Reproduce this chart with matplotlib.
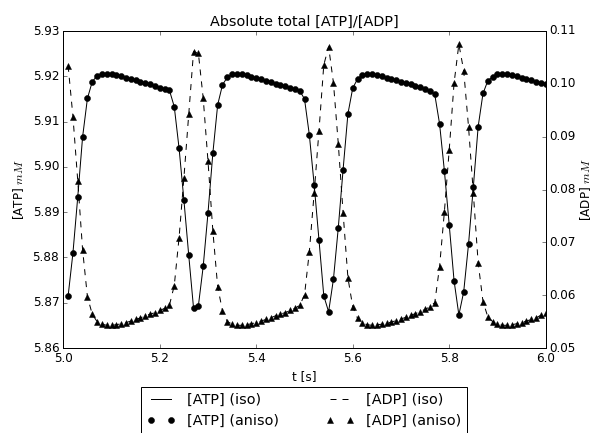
import matplotlib
matplotlib.use("Agg")
import matplotlib.pyplot as plt
from matplotlib.ticker import FormatStrFormatter

t = [5.01, 5.02, 5.03, 5.04, 5.05, 5.06, 5.07, 5.08, 5.09, 5.10,
     5.11, 5.12, 5.13, 5.14, 5.15, 5.16, 5.17, 5.18, 5.19, 5.20,
     5.21, 5.22, 5.23, 5.24, 5.25, 5.26, 5.27, 5.28, 5.29, 5.30,
     5.31, 5.32, 5.33, 5.34, 5.35, 5.36, 5.37, 5.38, 5.39, 5.40,
     5.41, 5.42, 5.43, 5.44, 5.45, 5.46, 5.47, 5.48, 5.49, 5.50,
     5.51, 5.52, 5.53, 5.54, 5.55, 5.56, 5.57, 5.58, 5.59, 5.60,
     5.61, 5.62, 5.63, 5.64, 5.65, 5.66, 5.67, 5.68, 5.69, 5.70,
     5.71, 5.72, 5.73, 5.74, 5.75, 5.76, 5.77, 5.78, 5.79, 5.80,
     5.81, 5.82, 5.83, 5.84, 5.85, 5.86, 5.87, 5.88, 5.89, 5.90,
     5.91, 5.92, 5.93, 5.94, 5.95, 5.96, 5.97, 5.98, 5.99, 6.00]

atp = [5.8715, 5.8810, 5.8934, 5.9066, 5.9151, 5.9188, 5.9201, 5.9205, 5.9206, 5.9205,
       5.9203, 5.9200, 5.9197, 5.9194, 5.9191, 5.9188, 5.9185, 5.9182, 5.9179, 5.9175,
       5.9172, 5.9169, 5.9133, 5.9041, 5.8927, 5.8805, 5.8688, 5.8693, 5.8780, 5.8899,
       5.9030, 5.9137, 5.9181, 5.9198, 5.9204, 5.9206, 5.9205, 5.9202, 5.9199, 5.9196,
       5.9193, 5.9190, 5.9187, 5.9184, 5.9181, 5.9178, 5.9175, 5.9172, 5.9168, 5.9150,
       5.9071, 5.8961, 5.8839, 5.8715, 5.8680, 5.8752, 5.8865, 5.8994, 5.9117, 5.9174,
       5.9194, 5.9203, 5.9206, 5.9205, 5.9203, 5.9200, 5.9197, 5.9194, 5.9191, 5.9188,
       5.9185, 5.9182, 5.9179, 5.9176, 5.9172, 5.9167, 5.9160, 5.9095, 5.8991, 5.8872,
       5.8749, 5.8673, 5.8724, 5.8829, 5.8956, 5.9089, 5.9162, 5.9190, 5.9199, 5.9204,
       5.9206, 5.9205, 5.9203, 5.9200, 5.9197, 5.9194, 5.9191, 5.9188, 5.9185, 5.9182]

adp = [0.1034, 0.0938, 0.0816, 0.0686, 0.0597, 0.0564, 0.0550, 0.0545, 0.0543, 0.0543,
       0.0544, 0.0546, 0.0548, 0.0551, 0.0554, 0.0557, 0.0561, 0.0564, 0.0567, 0.0571,
       0.0575, 0.0581, 0.0618, 0.0709, 0.0822, 0.0942, 0.1061, 0.1058, 0.0973, 0.0853,
       0.0722, 0.0616, 0.0570, 0.0550, 0.0545, 0.0543, 0.0543, 0.0544, 0.0546, 0.0548,
       0.0551, 0.0554, 0.0557, 0.0561, 0.0564, 0.0567, 0.0571, 0.0575, 0.0581, 0.0600,
       0.0682, 0.0793, 0.0911, 0.1036, 0.1070, 0.1002, 0.0887, 0.0756, 0.0633, 0.0578,
       0.0556, 0.0547, 0.0544, 0.0543, 0.0544, 0.0545, 0.0547, 0.0549, 0.0552, 0.0555,
       0.0558, 0.0562, 0.0565, 0.0569, 0.0573, 0.0578, 0.0586, 0.0654, 0.0758, 0.0875,
       0.1001, 0.1075, 0.1025, 0.0919, 0.0793, 0.0661, 0.0588, 0.0559, 0.0550, 0.0545,
       0.0543, 0.0543, 0.0544, 0.0546, 0.0548, 0.0551, 0.0554, 0.0557, 0.0562, 0.0567]

x_ticks = [5.0, 5.2, 5.4, 5.6, 5.8, 6.0]
atp_ticks = [5.86, 5.87, 5.88, 5.89, 5.90, 5.91, 5.92, 5.93]
adp_ticks = [0.05, 0.06, 0.07, 0.08, 0.09, 0.10, 0.11]

# ── figure ────────────────────────────────────────────────────────────────
plt.style.use("classic")
W, H, DPI = 594, 433, 72
fig = plt.figure(figsize=(W / DPI, H / DPI), dpi=DPI, facecolor="white")
ax = fig.add_axes([63.3 / W, 85 / H, (545.7 - 63.3) / W, 317 / H])
ax2 = ax.twinx()

ax.plot(t, atp, "k-", label="[ATP] (iso)")
ax.plot(t, atp, "ko", markersize=6, label="[ATP] (aniso)")
ax2.plot(t, adp, "k--", label="[ADP] (iso)")
ax2.plot(t, adp, "k^", markersize=6, label="[ADP] (aniso)")

ax.set_xlim(5.0, 6.0)
ax.set_ylim(5.86, 5.93)
ax2.set_ylim(0.05, 0.11)
ax.set_xticks(x_ticks)
ax.set_yticks(atp_ticks)
ax2.set_yticks(adp_ticks)
ax.xaxis.set_major_formatter(FormatStrFormatter("%.1f"))
ax.yaxis.set_major_formatter(FormatStrFormatter("%.2f"))
ax2.yaxis.set_major_formatter(FormatStrFormatter("%.2f"))

ax.set_xlabel("t [s]")
ax.set_ylabel("[ATP] $mM$", labelpad=7)
ax2.set_ylabel("[ADP] $mM$", labelpad=2)
ax.set_title("Absolute total [ATP]/[ADP]")

h1, l1 = ax.get_legend_handles_labels()
h2, l2 = ax2.get_legend_handles_labels()
fig.legend(h1 + h2, l1 + l2, loc="upper center", ncol=2, numpoints=2,
           columnspacing=3.2, bbox_to_anchor=(304 / W, (H - 387.3) / H),
           borderaxespad=0)

fig.savefig("out.png", dpi=DPI, facecolor="white")
